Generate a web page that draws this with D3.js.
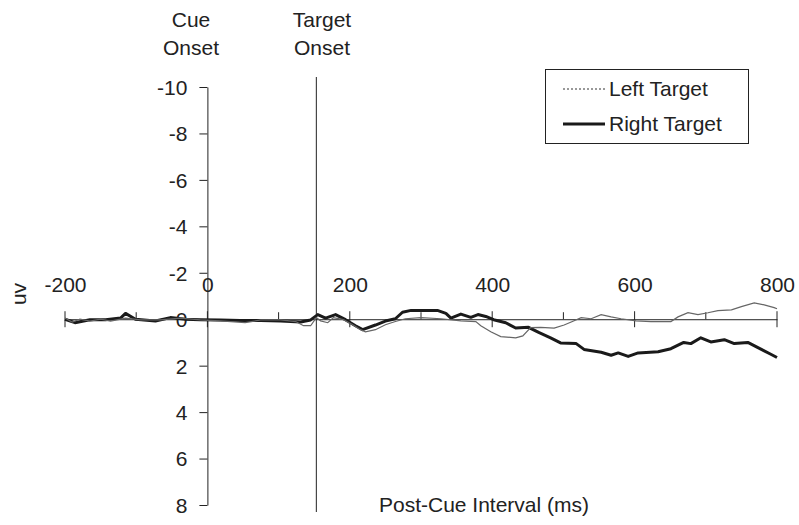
<!DOCTYPE html>
<html>
<head>
<meta charset="utf-8">
<script src="https://cdnjs.cloudflare.com/ajax/libs/d3/7.8.5/d3.min.js"></script>
<style>
  body { margin: 0; background: #fff; }
  text { font-family: "Liberation Sans", Arial, sans-serif; fill: #222; }
</style>
</head>
<body>
<div id="chart"></div>
<script>
// values (ms, uV; negative up)
var leftTime = [-200, -190, -179, -165, -150, -136, -115, -94, -66, -38, -10, 18, 53, 75, 103, 124, 135, 145, 153, 159, 169, 177, 191, 204, 215, 222, 236, 250, 264, 278, 300, 328, 356, 377, 384, 398, 412, 433, 443, 454, 468, 487, 501, 511, 525, 539, 553, 567, 581, 602, 623, 651, 661, 675, 689, 703, 717, 736, 750, 768, 782, 796, 800];
var leftValue = [-0.05, 0.12, 0, 0.08, 0, 0.08, -0.05, 0.03, 0.03, -0.05, 0.03, 0.07, 0.15, 0.03, 0.03, 0.1, 0.28, 0.28, -0.07, 0.07, 0.15, -0.07, 0.02, 0.24, 0.45, 0.54, 0.45, 0.24, 0.1, -0.02, -0.07, -0.02, 0.07, 0.1, 0.28, 0.54, 0.75, 0.8, 0.72, 0.36, 0.35, 0.38, 0.25, 0.12, -0.07, -0.02, -0.2, -0.1, -0.02, 0.07, 0.1, 0.1, -0.1, -0.28, -0.2, -0.28, -0.37, -0.4, -0.54, -0.7, -0.62, -0.5, -0.45];

var rightTime = [-200, -186, -165, -143, -122, -115, -101, -73, -52, -31, -10, 18, 46, 75, 103, 131, 145, 155, 166, 180, 194, 208, 218, 236, 250, 264, 274, 286, 323, 335, 342, 356, 370, 380, 391, 402, 419, 433, 451, 466, 482, 496, 518, 529, 553, 567, 577, 591, 605, 633, 651, 669, 679, 693, 707, 726, 740, 759, 778, 792, 800];
var rightValue = [0, 0.15, 0.02, 0.02, -0.05, -0.25, 0, 0.08, -0.07, 0, 0.02, 0.03, 0.06, 0.05, 0.08, 0.12, 0.03, -0.2, -0.05, -0.2, 0.02, 0.28, 0.45, 0.25, 0.08, -0.02, -0.3, -0.38, -0.38, -0.25, -0.05, -0.22, -0.08, -0.2, -0.12, 0.02, 0.15, 0.38, 0.35, 0.58, 0.8, 1.02, 1.05, 1.3, 1.42, 1.55, 1.45, 1.6, 1.45, 1.4, 1.27, 1.0, 1.05, 0.8, 0.98, 0.88, 1.05, 1.0, 1.3, 1.52, 1.65];

var xMajorTicks = [-200, 0, 200, 400, 600, 800];
var xMinorTicks = [-100, 100, 300, 500, 700];
var yTicks = [-10, -8, -6, -4, -2, 0, 2, 4, 6, 8];
var cueOnset = 0;
var targetOnset = 153;
var seriesNames = ["Left Target", "Right Target"];

var width = 799, height = 525;

var xScale = d3.scaleLinear().domain([-200, 800]).range([65, 777]);
var yScale = d3.scaleLinear().domain([-10, 8]).range([87, 505]);

// plain hyphen for negatives, like the original
var plainFormat = function (d) { return String(d); };

var svg = d3.select("#chart")
    .append("svg")
    .attr("width", width)
    .attr("height", height);

// y axis, ticks on the left
var yAxis = d3.axisLeft(yScale)
    .tickValues(yTicks)
    .tickSize(8)
    .tickSizeOuter(0)
    .tickPadding(12)
    .tickFormat(plainFormat);

var yG = svg.append("g")
    .attr("transform", `translate(${xScale(cueOnset)},0)`)
    .call(yAxis);
yG.selectAll("text").style("font-size", "21px").attr("dy", "0.35em");

// x axis along 0 uV, labels above
var xAxis = d3.axisTop(xScale)
    .tickValues(xMajorTicks)
    .tickSize(0)
    .tickSizeOuter(0)
    .tickPadding(27)
    .tickFormat(plainFormat);

var xG = svg.append("g")
    .attr("transform", `translate(0,${yScale(0)})`)
    .call(xAxis);
xG.selectAll("text").style("font-size", "21px").attr("dy", "0");

xG.selectAll(".major")
    .data(xMajorTicks)
    .join("line")
    .attr("class", "major")
    .attr("x1", (d) => xScale(d)).attr("x2", (d) => xScale(d))
    .attr("y1", -8).attr("y2", 8)
    .attr("stroke", "#222");

xG.selectAll(".minor")
    .data(xMinorTicks)
    .join("line")
    .attr("class", "minor")
    .attr("x1", (d) => xScale(d)).attr("x2", (d) => xScale(d))
    .attr("y1", -7).attr("y2", 0)
    .attr("stroke", "#222");

svg.selectAll(".domain").attr("stroke", "#222");
svg.selectAll(".tick line").attr("stroke", "#222");

// target onset marker
svg.append("line")
    .attr("x1", xScale(targetOnset)).attr("x2", xScale(targetOnset))
    .attr("y1", 77).attr("y2", 512)
    .attr("stroke", "#222")
    .attr("stroke-width", 1);

// curves
var line = d3.line()
    .x(function (d) { return xScale(d[0]); })
    .y(function (d) { return yScale(d[1]); });

var rightData = d3.zip(rightTime, rightValue);
var leftData = d3.zip(leftTime, leftValue);

svg.append("path")
    .datum(rightData)
    .attr("d", line)
    .style("fill", "none")
    .style("stroke", "#1a1a1a")
    .attr("stroke-width", 3)
    .attr("stroke-linejoin", "round");

svg.append("path")
    .datum(leftData)
    .attr("d", line)
    .style("fill", "none")
    .style("stroke", "#666")
    .attr("stroke-width", 1.2);

// labels
function label(x, y, txt, anchor) {
    svg.append("text")
        .attr("x", x).attr("y", y)
        .attr("text-anchor", anchor || "middle")
        .style("font-size", "21px")
        .text(txt);
}

label(191, 27, "Cue");
label(191, 55, "Onset");
label(322, 27, "Target");
label(322, 55, "Onset");
label(484, 512, "Post-Cue Interval (ms)");

svg.append("text")
    .attr("transform", "translate(26,294) rotate(-90)")
    .attr("text-anchor", "middle")
    .style("font-size", "21px")
    .text("uv");

// legend
var legend = svg.append("g");
legend.append("rect")
    .attr("x", 545.5).attr("y", 69.5)
    .attr("width", 203).attr("height", 74)
    .style("fill", "#fff")
    .style("stroke", "#222");

var legendStyles = [
    {dash: "2,2", w: 1, c: "#333"},
    {dash: null, w: 3, c: "#1a1a1a"}
];

legend.selectAll(".lg")
    .data(seriesNames)
    .join("line")
    .attr("x1", 563).attr("x2", 605)
    .attr("y1", (d, i) => 89 + i * 35).attr("y2", (d, i) => 89 + i * 35)
    .style("stroke", (d, i) => legendStyles[i].c)
    .attr("stroke-width", (d, i) => legendStyles[i].w)
    .attr("stroke-dasharray", (d, i) => legendStyles[i].dash);

legend.selectAll(".lt")
    .data(seriesNames)
    .join("text")
    .attr("x", 609)
    .attr("y", (d, i) => 96 + i * 35)
    .style("font-size", "21px")
    .text((d) => d);
</script>
</body>
</html>
